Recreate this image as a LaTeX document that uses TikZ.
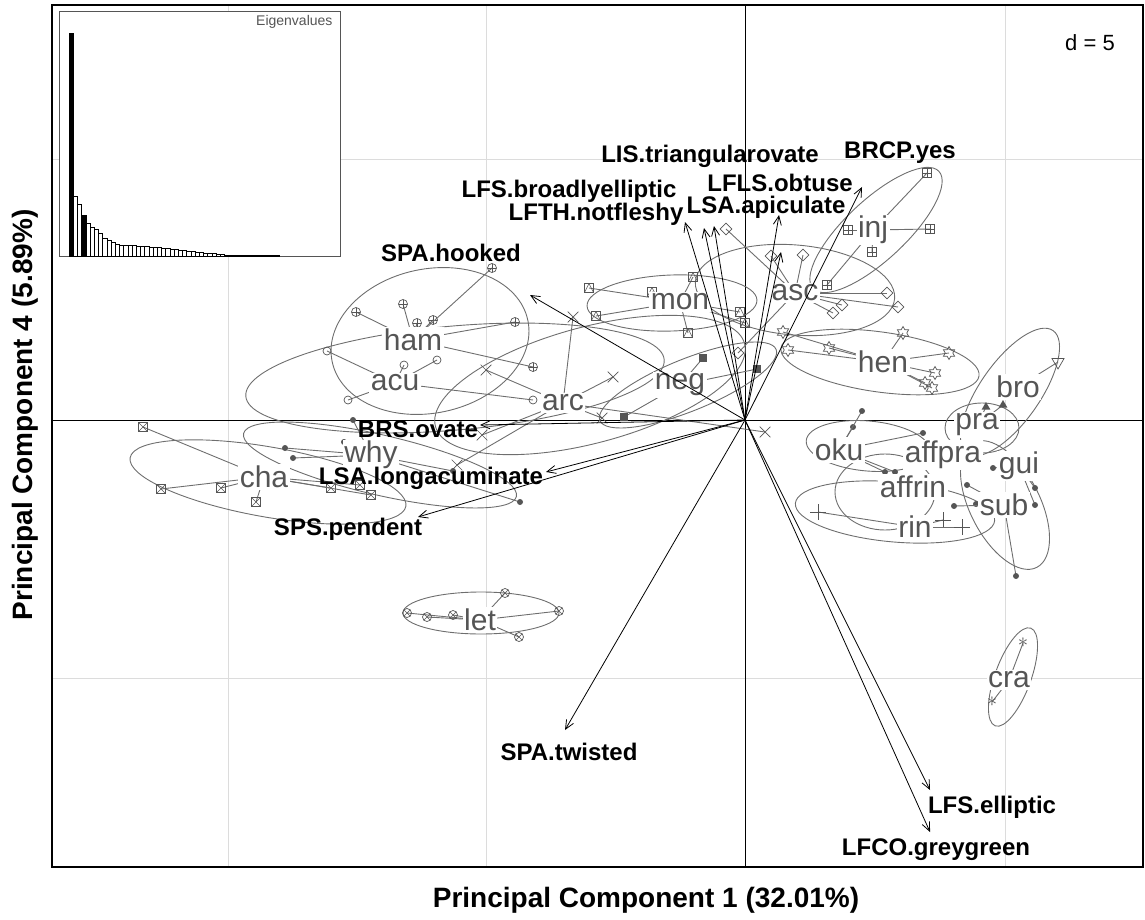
\documentclass[tikz,border=0pt]{standalone}
\usepackage{fontspec}
\setmainfont{Liberation Sans}
\usetikzlibrary{shapes.geometric,shapes.misc,arrows.meta}

\definecolor{grpgray}{HTML}{6E6E6E}
\definecolor{labgray}{HTML}{555555}
\definecolor{gridgray}{HTML}{DCDCDC}

\tikzset{
  ell/.style={draw=grpgray, line width=0.9pt},
  ray/.style={draw=grpgray, line width=0.9pt},
  grplab/.style={fill=white, text=labgray, inner sep=1.5pt, font=\fontsize{30}{30}\selectfont},
  varlab/.style={font=\fontsize{24}{24}\selectfont\bfseries},
  vararrow/.style={draw=black, line width=0.8pt, -{Straight Barb[length=9pt,width=8pt]}},
  bar/.style={draw=black, line width=0.6pt, fill=white},
  mk/.style={draw=labgray, inner sep=0pt, line width=0.7pt},
  plusin/.style={path picture={\draw[labgray, line width=0.6pt]
      (path picture bounding box.north) -- (path picture bounding box.south)
      (path picture bounding box.west) -- (path picture bounding box.east);}},
  xin/.style={path picture={\draw[labgray, line width=0.6pt]
      (path picture bounding box.north west) -- (path picture bounding box.south east)
      (path picture bounding box.north east) -- (path picture bounding box.south west);}},
  triin/.style={path picture={\draw[labgray, line width=0.6pt]
      (path picture bounding box.south west) -- (path picture bounding box.north)
      -- (path picture bounding box.south east);}},
  mkcp/.style={mk, circle, minimum size=9pt, plusin},
  mkc/.style={mk, circle, minimum size=8pt},
  mkx/.style={mk, cross out, minimum size=10pt},
  mkf/.style={rectangle, fill=labgray, inner sep=0pt, minimum size=8pt},
  mksqt/.style={mk, rectangle, minimum size=9pt, triin},
  mkd/.style={mk, diamond, minimum size=12pt},
  mksqp/.style={mk, rectangle, minimum size=9pt, plusin},
  mkhex/.style={mk, star, star points=6, star point ratio=1.73, minimum size=13pt},
  mktri/.style={mk, regular polygon, regular polygon sides=3, shape border rotate=180, minimum size=14pt},
  mkft/.style={regular polygon, regular polygon sides=3, fill=labgray, inner sep=0pt, minimum size=10pt},
  mkdot/.style={circle, fill=labgray, inner sep=0pt, minimum size=6pt},
  mkp/.style={mk, cross out, rotate=45, minimum size=10pt},
  mkast/.style={text=labgray, inner sep=0pt, font=\fontsize{22}{22}\selectfont},
  mkcx/.style={mk, circle, minimum size=9pt, xin},
  mksqx/.style={mk, rectangle, minimum size=9pt, xin}
}

\begin{document}
\begin{tikzpicture}[x=1pt, y=-1pt]
  \useasboundingbox (0,0) rectangle (1145,920);

  % grid and axes
  \draw[gridgray, line width=1pt] (228,5) -- (228,867) (486,5) -- (486,867) (1005,5) -- (1005,867);
  \draw[gridgray, line width=1pt] (52,160) -- (1143,160) (52,678) -- (1143,678);
  \draw[black, line width=0.8pt] (745,5) -- (745,867) (52,420) -- (1143,420);
  \coordinate (o) at (745,420);

  % ellipses
  \draw[ell, rotate around={12:(430,341)}] (430,341) ellipse [x radius=100, y radius=72];
  \draw[ell, rotate around={5:(455,378)}] (455,378) ellipse [x radius=210, y radius=52];
  \draw[ell, rotate around={15:(590,385)}] (590,385) ellipse [x radius=160, y radius=58];
  \draw[ell, rotate around={22:(688,385)}] (688,385) ellipse [x radius=95, y radius=26];
  \draw[ell, rotate around={2:(672,303)}] (672,303) ellipse [x radius=85, y radius=28];
  \draw[ell, rotate around={-5:(795,290)}] (795,290) ellipse [x radius=100, y radius=45];
  \draw[ell, rotate around={43:(876,230)}] (876,230) ellipse [x radius=86, y radius=30];
  \draw[ell, rotate around={-8:(880,362)}] (880,362) ellipse [x radius=100, y radius=30];
  \draw[ell, rotate around={55:(1010,392)}] (1010,392) ellipse [x radius=75, y radius=30];
  \draw[ell] (982,428) ellipse [x radius=37, y radius=25];
  \draw[ell, rotate around={-5:(868,446)}] (868,446) ellipse [x radius=62, y radius=25];
  \draw[ell] (885,492) ellipse [x radius=50, y radius=38];
  \draw[ell, rotate around={-63:(1005,505)}] (1005,505) ellipse [x radius=70, y radius=35];
  \draw[ell, rotate around={-5:(895,512)}] (895,512) ellipse [x radius=100, y radius=30];
  \draw[ell, rotate around={70:(1013,677)}] (1013,677) ellipse [x radius=52, y radius=18];
  \draw[ell, rotate around={-13:(380,465)}] (380,465) ellipse [x radius=140, y radius=30];
  \draw[ell, rotate around={-10:(268,482)}] (268,482) ellipse [x radius=140, y radius=35];
  \draw[ell] (481,613) ellipse [x radius=78, y radius=21];

  % group centres
  \coordinate (hamc) at (413,340);
  \coordinate (acuc) at (395,383);
  \coordinate (arcc) at (563,403);
  \coordinate (negc) at (680,385);
  \coordinate (monc) at (680,302);
  \coordinate (ascc) at (795,293);
  \coordinate (injc) at (873,230);
  \coordinate (henc) at (883,362);
  \coordinate (broc) at (1018,387);
  \coordinate (prac) at (977,425);
  \coordinate (okuc) at (839,450);
  \coordinate (guic) at (1019,466);
  \coordinate (subc) at (1004,505);
  \coordinate (rinc) at (915,527);
  \coordinate (crac) at (1009,680);
  \coordinate (whyc) at (371,455);
  \coordinate (chac) at (264,477);
  \coordinate (letc) at (480,620);

  % points and stars
  \foreach \p [count=\i] in {(356,312),(403,304),(417,323),(433,320),(492,268),(515,322),(533,367)}
    {\draw[ray] (hamc) -- \p; \node[mkcp] (ham-\i) at \p {};}
  \foreach \p [count=\i] in {(327,351),(348,400),(533,400),(404,365),(437,360)}
    {\draw[ray] (acuc) -- \p; \node[mkc] (acu-\i) at \p {};}
  \foreach \p [count=\i] in {(573,317),(486,370),(613,377),(482,435),(765,432),(457,465),(602,418)}
    {\draw[ray] (arcc) -- \p; \node[mkx] (arc-\i) at \p {};}
  \foreach \p [count=\i] in {(703,358),(757,369),(624,417)}
    {\draw[ray] (negc) -- \p; \node[mkf] (neg-\i) at \p {};}
  \foreach \p [count=\i] in {(589,288),(596,316),(688,333),(693,277),(740,312),(745,323),(652,292)}
    {\draw[ray] (monc) -- \p; \node[mksqt] (mon-\i) at \p {};}
  \foreach \p [count=\i] in {(726,229),(771,256),(803,255),(887,293),(898,307),(842,305),(833,313),(738,353)}
    {\draw[ray] (ascc) -- \p; \node[mkd] (asc-\i) at \p {};}
  \foreach \p [count=\i] in {(927,173),(930,229),(848,230),(872,252),(827,285)}
    {\draw[ray] (injc) -- \p; \node[mksqp] (inj-\i) at \p {};}
  \foreach \p [count=\i] in {(783,332),(788,350),(829,348),(903,333),(949,353),(935,373),(925,383),(932,388)}
    {\draw[ray] (henc) -- \p; \node[mkhex] (hen-\i) at \p {};}
  \foreach \p [count=\i] in {(1058,362)}
    {\draw[ray] (broc) -- \p; \node[mktri] (bro-\i) at \p {};}
  \foreach \p [count=\i] in {(986,407),(1003,405)}
    {\draw[ray] (prac) -- \p; \node[mkft] (pra-\i) at \p {};}
  \foreach \p [count=\i] in {(826,442),(853,427),(862,411),(923,433),(885,472),(895,472)}
    {\draw[ray] (okuc) -- \p; \node[mkdot] (oku-\i) at \p {};}
  \foreach \p [count=\i] in {(1035,488),(1035,505),(993,468)}
    {\draw[ray] (guic) -- \p; \node[mkdot] (gui-\i) at \p {};}
  \foreach \p [count=\i] in {(1016,576),(967,485),(976,504),(954,506)}
    {\draw[ray] (subc) -- \p; \node[mkdot] (sub-\i) at \p {};}
  \foreach \p [count=\i] in {(818,512),(943,520),(962,527)}
    {\draw[ray] (rinc) -- \p; \node[mkp] (rin-\i) at \p {};}
  \foreach \p [count=\i] in {(1023,643),(992,702)}
    {\draw[ray] (crac) -- \p; \node[mkast] (cra-\i) at \p {$\ast$};}
  \foreach \p [count=\i] in {(353,420),(344,442),(285,448),(293,458),(453,471),(520,502)}
    {\draw[ray] (whyc) -- \p; \node[mkdot] (why-\i) at \p {};}
  \foreach \p [count=\i] in {(143,427),(161,489),(221,488),(331,488),(360,485),(371,495),(256,502)}
    {\draw[ray] (chac) -- \p; \node[mksqx] (cha-\i) at \p {};}
  \foreach \p [count=\i] in {(407,613),(427,617),(453,615),(559,611),(519,637),(505,593)}
    {\draw[ray] (letc) -- \p; \node[mkcx] (let-\i) at \p {};}

  % group labels
  \node[grplab] (ham) at (hamc) {ham};
  \node[grplab] (acu) at (acuc) {acu};
  \node[grplab] (arc) at (arcc) {arc};
  \node[grplab] (neg) at (negc) {neg};
  \node[grplab] (mon) at (monc) {mon};
  \node[grplab] (asc) at (ascc) {asc};
  \node[grplab] (inj) at (injc) {inj};
  \node[grplab] (hen) at (henc) {hen};
  \node[grplab] (bro) at (broc) {bro};
  \node[grplab] (oku) at (okuc) {oku};
  \node[grplab] (rin) at (rinc) {rin};
  \node[grplab] (affrin) at (913,487) {affrin};
  \node[grplab] (sub) at (subc) {sub};
  \node[grplab] (gui) at (guic) {gui};
  \node[grplab] (affpra) at (943,455) {affpra};
  \node[grplab] (pra) at (prac) {pra};
  \node[grplab] (cra) at (crac) {cra};
  \node[grplab] (why) at (whyc) {why};
  \node[grplab] (cha) at (chac) {cha};
  \node[grplab] (let) at (letc) {let};

  % variable arrows
  \coordinate (tSPAh) at (530,295);
  \coordinate (tLFTH) at (685,222);
  \coordinate (tLFSb) at (704,228);
  \coordinate (tLIS) at (714,226);
  \coordinate (tLFLS) at (779,215);
  \coordinate (tLSAa) at (781,252);
  \coordinate (tBRCP) at (862,187);
  \coordinate (tBRS) at (480,425);
  \coordinate (tLSAl) at (546,472);
  \coordinate (tSPS) at (418,517);
  \coordinate (tSPAt) at (565,730);
  \coordinate (tLFSe) at (930,790);
  \coordinate (tLFCO) at (930,832);
  \foreach \t in {tSPAh,tLFTH,tLFSb,tLIS,tLFLS,tLSAa,tBRCP,tBRS,tLSAl,tSPS,tSPAt,tLFSe,tLFCO}
    \draw[vararrow] (o) -- (\t);

  \node[varlab] (SPAh) at (451,253) {SPA.hooked};
  \node[varlab] (LFSb) at (569,191) {LFS.broadlyelliptic};
  \node[varlab] (LFTH) at (596,214) {LFTH.notfleshy};
  \node[varlab] (LIS) at (710,156) {LIS.triangularovate};
  \node[varlab] (LFLS) at (780,183) {LFLS.obtuse};
  \node[varlab] (LSAa) at (766,207) {LSA.apiculate};
  \node[varlab] (BRCP) at (900,153) {BRCP.yes};
  \node[varlab] (BRS) at (418,429) {BRS.ovate};
  \node[varlab] (LSAl) at (431,478) {LSA.longacuminate};
  \node[varlab] (SPS) at (348,529) {SPS.pendent};
  \node[varlab] (SPAt) at (569,752) {SPA.twisted};
  \node[varlab] (LFSe) at (992,807) {LFS.elliptic};
  \node[varlab] (LFCO) at (936,850) {LFCO.greygreen};

  % frame, d, titles
  \draw[black, line width=1.2pt] (52,5) rectangle (1143,867);
  \node[font=\fontsize{22}{22}\selectfont] (dval) at (1090,43) {d = 5};
  \node[font=\fontsize{28}{28}\selectfont\bfseries] (xtitle) at (646,900) {Principal Component 1 (32.01\%)};
  \node[font=\fontsize{28}{28}\selectfont\bfseries, rotate=90] (ytitle) at (25,415) {Principal Component 4 (5.89\%)};

  % eigenvalues inset
  \draw[draw=labgray, line width=1pt, fill=white] (59,12) rectangle (340,256);
  \foreach \h [count=\i] in {33,196,204,215,223,227,229,233,238,240,242,244,245,245,245,245,246,246,246,247,247,247,248,248,249,249,250,250,251,251,252,252,253,253,253,254,254,255,255,255,255,255,255,255,255,255,255,255,255,255}
    \draw[bar] ({69+(\i-1)*4.2},256) rectangle ({69+\i*4.2},\h);
  \draw[bar, fill=black] (69,256) rectangle (73.2,33);
  \draw[bar, fill=black] (81.6,256) rectangle (85.8,215);
  \node[anchor=east, text=labgray, font=\fontsize{14}{14}\selectfont] (eig) at (336,22) {Eigenvalues};
\end{tikzpicture}
\end{document}
